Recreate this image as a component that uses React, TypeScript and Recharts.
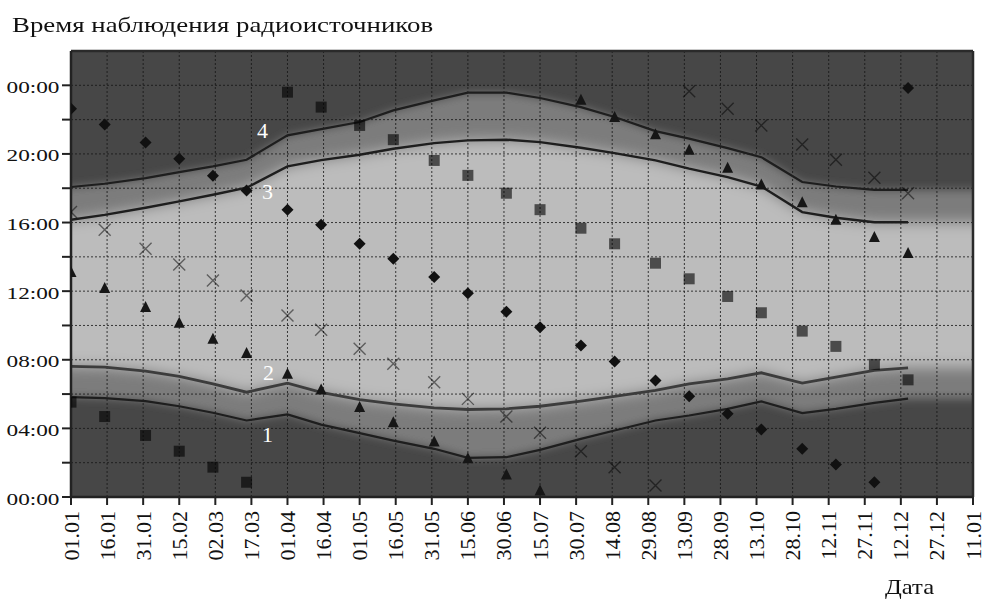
import React from "react";
import { ComposedChart, Area, Line, Scatter, XAxis, YAxis, ReferenceLine, ReferenceDot } from "recharts";

// observation dates: 1st and 15th of each month, as day of year
const obsDays = [0, 14, 31, 45, 59, 73, 90, 104, 120, 134, 151, 165, 181, 195, 212, 226, 243, 257, 273, 287, 304, 318, 334, 348];

// x axis labels, one every 15 days
const dateLabels = [
  "01.01", "16.01", "31.01", "15.02", "02.03", "17.03", "01.04", "16.04", "01.05", "16.05", "31.05", "15.06", "30.06",
  "15.07", "30.07", "14.08", "29.08", "13.09", "28.09", "13.10", "28.10", "12.11", "27.11", "12.12", "27.12", "11.01",
];

// boundary curves (hours)
const line1 = [5.82, 5.76, 5.59, 5.29, 4.91, 4.46, 4.81, 4.22, 3.72, 3.29, 2.81, 2.28, 2.32, 2.75, 3.39, 3.88, 4.46, 4.75, 5.14, 5.57, 4.89, 5.14, 5.49, 5.73];
const line2 = [7.61, 7.57, 7.34, 7.03, 6.6, 6.11, 6.64, 6.1, 5.67, 5.43, 5.2, 5.1, 5.14, 5.29, 5.59, 5.86, 6.21, 6.6, 6.89, 7.24, 6.64, 6.99, 7.38, 7.53];
const line3 = [16.16, 16.45, 16.86, 17.23, 17.62, 18.03, 19.27, 19.64, 19.95, 20.3, 20.63, 20.79, 20.83, 20.69, 20.36, 20.05, 19.62, 19.14, 18.65, 18.1, 16.61, 16.28, 16.02, 16.02];
const line4 = [18.07, 18.26, 18.59, 18.94, 19.27, 19.66, 21.08, 21.45, 21.86, 22.54, 23.12, 23.57, 23.57, 23.26, 22.73, 22.15, 21.33, 20.89, 20.34, 19.81, 18.36, 18.1, 17.91, 17.91];

// sources (hours)
const diamonds = [22.64, 21.72, 20.67, 19.72, 18.73, 17.87, 16.75, 15.87, 14.76, 13.89, 12.82, 11.88, 10.8, 9.9, 8.83, 7.9, 6.79, 5.88, 4.85, 3.94, 2.81, 1.9, 0.86, 23.84];
const triangles = [13.11, 12.18, 11.07, 10.16, 9.22, 8.39, 7.18, 6.27, 5.24, 4.36, 3.24, 2.26, 1.31, 0.38, 23.16, 22.15, 21.14, 20.24, 19.19, 18.22, 17.19, 16.16, 15.15, 14.22];
const squares = [5.53, 4.69, 3.59, 2.67, 1.74, 0.86, 23.6, 22.73, 21.66, 20.83, 19.62, 18.75, 17.71, 16.75, 15.67, 14.76, 13.63, 12.72, 11.69, 10.74, 9.67, 8.78, 7.73, 6.83];
const crosses = [16.61, 15.58, 14.47, 13.56, 12.62, 11.75, 10.58, 9.75, 8.64, 7.77, 6.69, 5.72, 4.69, 3.74, 2.67, 1.74, 0.67, 23.66, 22.64, 21.66, 20.55, 19.66, 18.61, 17.71];

// curve numbers
const curveLabels = [
  { name: "4", day: 79.6, hour: 21.4 },
  { name: "3", day: 81.7, hour: 17.8 },
  { name: "2", day: 82.1, hour: 7.3 },
  { name: "1", day: 81.7, hour: 3.67 },
];

const xTicks = dateLabels.map((_, i) => i * 15);
const yTicks = [0, 2, 4, 6, 8, 10, 12, 14, 16, 18, 20, 22, 24];
const hGrid = [2, 4, 6, 8, 10, 12, 14, 16, 18, 20, 22, 24];
const vGrid = xTicks.slice(1, -1);

const makeRow = (day: number, i: number, withLines: boolean) => ({
  day,
  bg: [0, 26],
  mid: [line1[i], line4[i]],
  light: [line2[i], line3[i]],
  ...(withLines ? { l1: line1[i], l2: line2[i], l3: line3[i], l4: line4[i] } : {}),
});

const last = obsDays.length - 1;
const chartData = [
  makeRow(-30, 0, false),
  ...obsDays.map((d, i) => makeRow(d, i, true)),
  makeRow(410, last, false),
];

const toPoints = (hours: number[]) => obsDays.map((day, i) => ({ day, hour: hours[i] }));

const serif = '"Liberation Serif", "Times New Roman", serif';

const css = `
html body #root svg text, html body #root svg tspan { font-family: "Liberation Serif", "Times New Roman", serif !important; }
.band-mid .recharts-area-area { filter: url(#blurMid); }
.band-light .recharts-area-area { filter: url(#blurLight); }
`;

const Diamond = (p: any) => (
  <polygon points={`${p.cx},${p.cy - 6} ${p.cx + 6},${p.cy} ${p.cx},${p.cy + 6} ${p.cx - 6},${p.cy}`} fill="#111" />
);
const Square = (p: any) => <rect x={p.cx - 5.5} y={p.cy - 5.5} width={11} height={11} fill="#000" fillOpacity={0.6} />;
const Triangle = (p: any) => (
  <polygon points={`${p.cx},${p.cy - 6} ${p.cx + 5.5},${p.cy + 5} ${p.cx - 5.5},${p.cy + 5}`} fill="#161616" />
);
const Cross = (p: any) => (
  <path d={`M${p.cx - 6},${p.cy - 6}L${p.cx + 6},${p.cy + 6}M${p.cx + 6},${p.cy - 6}L${p.cx - 6},${p.cy + 6}`} stroke="#000" strokeOpacity={0.5} strokeWidth={1.4} fill="none" />
);

const YTick = (p: any) => {
  const v = p.payload.value;
  if (v % 4 !== 0) return <g />;
  const label = String(v % 24).padStart(2, "0") + ":00";
  return (
    <text x={59.5} y={p.y + 7.5} textAnchor="end" fontFamily={serif} fontSize={17} fill="#111" textLength={53} lengthAdjust="spacingAndGlyphs">
      {label}
    </text>
  );
};

const XTick = (p: any) => {
  const idx = Math.round(p.payload.value / 15);
  return (
    <text transform={`translate(${p.x + 7.5},511) rotate(-90)`} textAnchor="end" fontFamily={serif} fontSize={22} fill="#111">
      {dateLabels[idx]}
    </text>
  );
};

export default function App() {
  return (
    <div style={{ position: "absolute", left: 0, top: 0, width: 984, height: 601, background: "#fff" }}>
      <style>{css}</style>
      <svg width={0} height={0} style={{ position: "absolute" }}>
        <defs>
          <filter id="blurMid" x="-10%" y="-30%" width="120%" height="160%">
            <feGaussianBlur stdDeviation="4" />
          </filter>
          <filter id="blurLight" x="-10%" y="-30%" width="120%" height="160%">
            <feGaussianBlur stdDeviation="7" />
          </filter>
        </defs>
      </svg>
      <ComposedChart width={984} height={601} data={chartData} margin={{ top: 51, right: 11, left: 0, bottom: 0 }}>
        <XAxis
          dataKey="day"
          type="number"
          domain={[0, 375]}
          ticks={xTicks}
          interval={0}
          allowDataOverflow
          height={104}
          tickSize={8}
          tick={<XTick />}
          axisLine={{ stroke: "#222", strokeWidth: 2.5 }}
          tickLine={{ stroke: "#222", strokeWidth: 2 }}
        />
        <YAxis
          type="number"
          domain={[0, 26]}
          ticks={yTicks}
          interval={0}
          allowDataOverflow
          width={71}
          tickSize={9}
          tick={<YTick />}
          axisLine={{ stroke: "#222", strokeWidth: 2.5 }}
          tickLine={{ stroke: "#222", strokeWidth: 2 }}
        />
        <Area dataKey="bg" type="linear" fill="#474747" fillOpacity={1} stroke="none" isAnimationActive={false} />
        <Area className="band-mid" dataKey="mid" type="linear" fill="#7c7c7c" fillOpacity={1} stroke="none" isAnimationActive={false} />
        <Area className="band-light" dataKey="light" type="linear" fill="#bcbcbc" fillOpacity={1} stroke="none" isAnimationActive={false} />
        {hGrid.map((h) => (
          <ReferenceLine key={"h" + h} y={h} stroke="#151515" strokeOpacity={0.8} strokeDasharray="2 2" />
        ))}
        {vGrid.map((d) => (
          <ReferenceLine key={"v" + d} x={d} stroke="#151515" strokeOpacity={0.8} strokeDasharray="2 2" />
        ))}
        <ReferenceLine y={26} stroke="#2a2a2a" strokeWidth={2.5} />
        <ReferenceLine x={375} stroke="#2a2a2a" strokeWidth={2.5} />
        <Line dataKey="l1" type="linear" stroke="#1e1e1e" strokeWidth={2.2} dot={false} isAnimationActive={false} />
        <Line dataKey="l2" type="linear" stroke="#3c3c3c" strokeWidth={2.8} dot={false} isAnimationActive={false} />
        <Line dataKey="l3" type="linear" stroke="#1e1e1e" strokeWidth={2.4} dot={false} isAnimationActive={false} />
        <Line dataKey="l4" type="linear" stroke="#1e1e1e" strokeWidth={2.2} dot={false} isAnimationActive={false} />
        <Scatter data={toPoints(squares)} dataKey="hour" shape={Square} isAnimationActive={false} />
        <Scatter data={toPoints(crosses)} dataKey="hour" shape={Cross} isAnimationActive={false} />
        <Scatter data={toPoints(triangles)} dataKey="hour" shape={Triangle} isAnimationActive={false} />
        <Scatter data={toPoints(diamonds)} dataKey="hour" shape={Diamond} isAnimationActive={false} />
        {curveLabels.map((c) => (
          <ReferenceDot
            key={c.name}
            x={c.day}
            y={c.hour}
            r={1}
            fill="none"
            stroke="none"
            label={{ value: c.name, position: "center", fill: "#fff", fontSize: 22, fontFamily: serif }}
          />
        ))}
      </ComposedChart>
      <div style={{ position: "absolute", left: 12, top: 12, fontFamily: serif, fontSize: 22, lineHeight: "26px", color: "#111", transform: "scaleX(1.22)", transformOrigin: "0 0", whiteSpace: "nowrap" }}>
        Время наблюдения радиоисточников
      </div>
      <div style={{ position: "absolute", left: 885, top: 574, fontFamily: serif, fontSize: 22, lineHeight: "26px", color: "#111", transform: "scaleX(1.12)", transformOrigin: "0 0" }}>
        Дата
      </div>
    </div>
  );
}
